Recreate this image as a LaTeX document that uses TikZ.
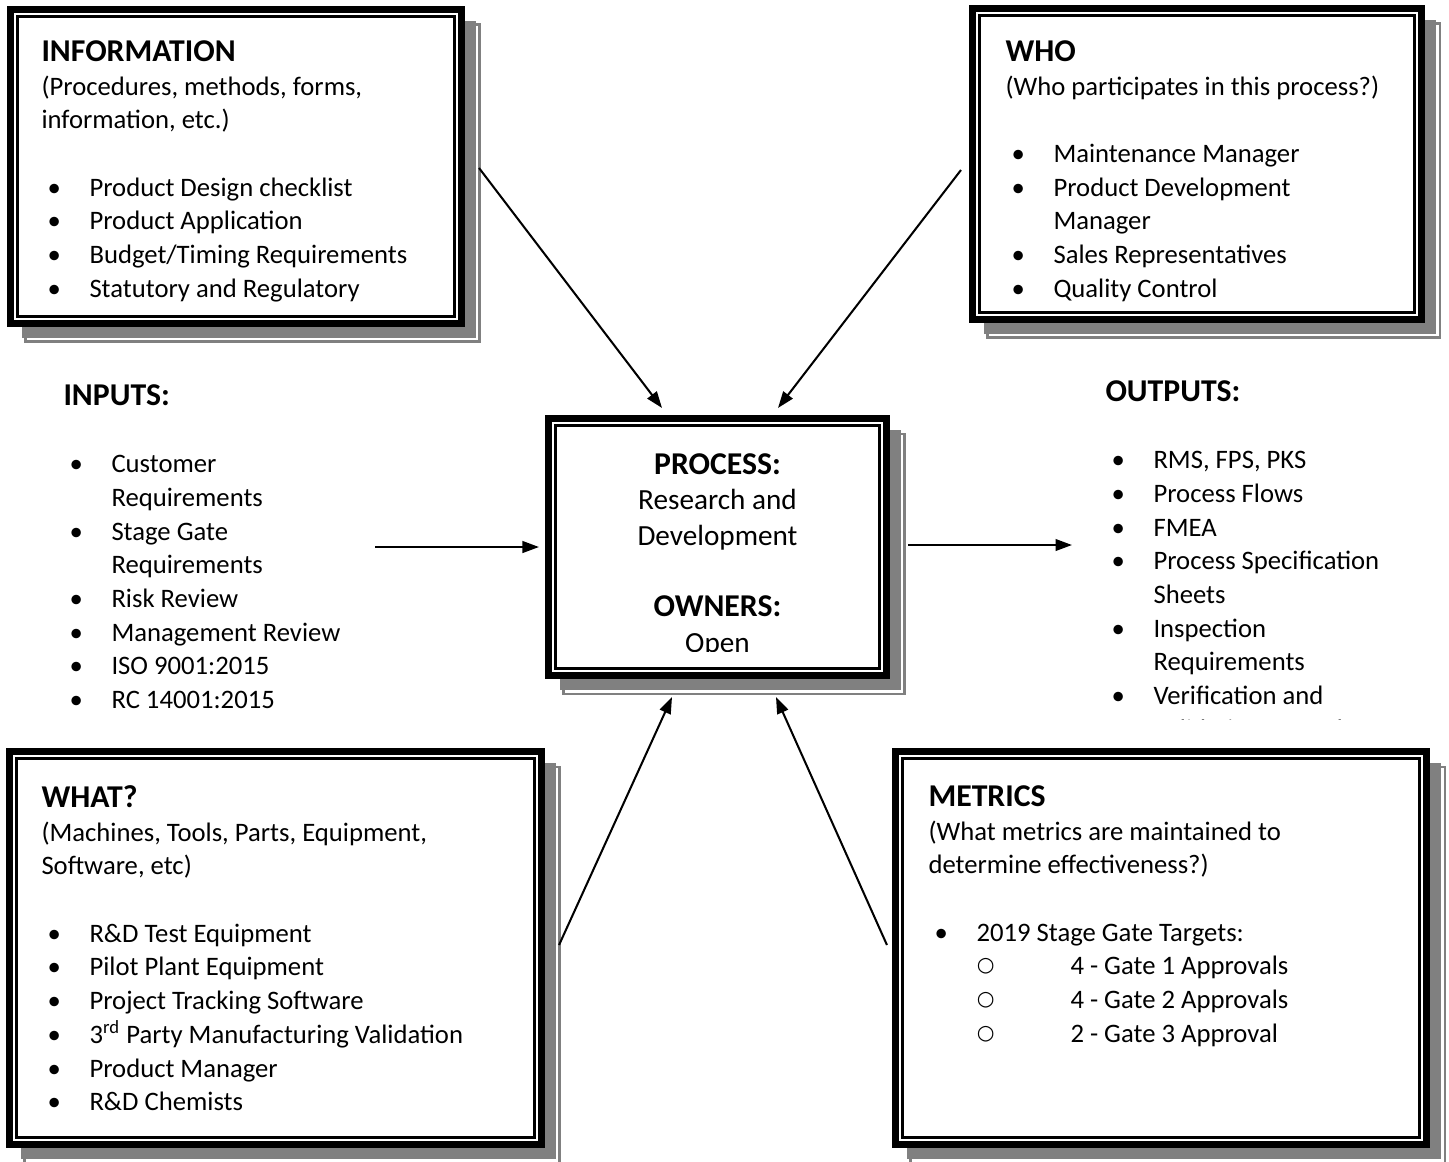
\documentclass[tikz,border=0pt]{standalone}
\usepackage{fontspec}
\setmainfont{Carlito}
\newfontfamily\symbfont{DejaVu Sans}
\usetikzlibrary{calc, positioning, arrows.meta, fit}
\definecolor{colShadow}{RGB}{128,128,128}

% list helpers
\newcommand{\bul}{\makebox[18.9pt][l]{\hspace{2.4pt}\textbullet}}
\newcommand{\subbul}{\makebox[55.9pt][l]{\hspace{19pt}\raisebox{1.2pt}{\symbfont\fontsize{8}{8}\selectfont ○}}}
\newcommand{\cont}{\hspace*{18.9pt}}
\newcommand{\ttl}[1]{{\fontsize{12.5}{13.3}\selectfont\bfseries #1}}

% the two inner lines of a framed box
\newcommand{\innerframes}[1]{%
  \draw[line width=1.2pt] ($(#1.north west)+(5.5,5.5)$) rectangle ($(#1.south east)+(-5.5,-5.5)$);
  \draw[line width=0.9pt] ($(#1.north west)+(10.5,10.5)$) rectangle ($(#1.south east)+(-10.5,-10.5)$);
}

\begin{document}
\begin{tikzpicture}[
  x=0.3937pt, y=-0.3937pt,
  tribox/.style={draw, line width=1.6pt, fill=white, inner sep=0pt,
                 preaction={draw=colShadow, line width=0.8pt,
                            transform canvas={shift={(16.5,16.5)}}},
                 preaction={fill=colShadow,
                            transform canvas={shift={(13,13)}}}},
  txt/.style={anchor=north west, inner sep=0pt, align=left,
              font=\fontsize{10.5}{13.27}\selectfont},
  proctxt/.style={anchor=north, inner sep=0pt, align=center,
                  font=\fontsize{11.5}{14}\selectfont},
  conn/.style={-{Triangle[length=6.5pt,width=4.6pt]}, line width=0.8pt}
]
\useasboundingbox (0,0) rectangle (1449,1161);

% ---------- Boxes ----------
\node[tribox, fit={(9,8) (463,325)}] (info) {};
\node[tribox, fit={(971,7) (1423,321)}] (who) {};
\node[tribox, fit={(547,417) (888,677)}] (proc) {};
\node[tribox, fit={(8,750) (543,1146)}] (what) {};
\node[tribox, fit={(894,750) (1428,1146)}] (metrics) {};
\innerframes{info}
\innerframes{who}
\innerframes{proc}
\innerframes{what}
\innerframes{metrics}

% ---------- Box texts ----------
\node[txt] (infotxt) at (41,40) {
  \ttl{INFORMATION}\\
  (Procedures, methods, forms,\\
  information, etc.)\\[13.27pt]
  \bul Product Design checklist\\
  \bul Product Application\\
  \bul Budget/Timing Requirements\\
  \bul Statutory and Regulatory
};
\node[txt] (whotxt) at (1005,40) {
  \ttl{WHO}\\
  (Who participates in this process?)\\[13.27pt]
  \bul Maintenance Manager\\
  \bul Product Development\\
  \cont Manager\\
  \bul Sales Representatives\\
  \bul Quality Control
};
\node[txt] (whattxt) at (41,785) {
  \ttl{WHAT?}\\
  (Machines, Tools, Parts, Equipment,\\
  Software, etc)\\[13.27pt]
  \bul R\&D Test Equipment\\
  \bul Pilot Plant Equipment\\
  \bul Project Tracking Software\\
  \bul 3\textsuperscript{rd} Party Manufacturing Validation\\
  \bul Product Manager\\
  \bul R\&D Chemists
};
\node[txt] (metricstxt) at (928,785) {
  \ttl{METRICS}\\
  (What metrics are maintained to\\
  determine effectiveness?)\\[13.27pt]
  \bul 2019 Stage Gate Targets:\\
  \subbul 4 - Gate 1 Approvals\\
  \subbul 4 - Gate 2 Approvals\\
  \subbul 2 - Gate 3 Approval
};

% process text, cut off by the inner frame
\begin{scope}
  \clip (560,430) rectangle (875,651);
  \node[proctxt] (proctext) at (717.5,453) {
    \ttl{PROCESS:}\\
    Research and\\
    Development\\[14pt]
    \ttl{OWNERS:}\\
    Open
  };
\end{scope}

% ---------- Inputs / outputs ----------
\node[txt] (inputs) at (63,384) {
  \ttl{INPUTS:}\\[13.27pt]
  \bul Customer\\
  \cont Requirements\\
  \bul Stage Gate\\
  \cont Requirements\\
  \bul Risk Review\\
  \bul Management Review\\
  \bul ISO 9001:2015\\
  \bul RC 14001:2015
};
\begin{scope}
  \clip (1080,360) rectangle (1449,719);
  \node[txt] (outputs) at (1105,380) {
    \ttl{OUTPUTS:}\\[13.27pt]
    \bul RMS, FPS, PKS\\
    \bul Process Flows\\
    \bul FMEA\\
    \bul Process Specification\\
    \cont Sheets\\
    \bul Inspection\\
    \cont Requirements\\
    \bul Verification and\\
    \cont Validation Records
  };
\end{scope}

% ---------- Arrows ----------
\coordinate (inStart) at (375,547);
\coordinate (outEnd) at (1072,545);
\draw[conn] ($(info.east)+(14,1.5)$) -- ($(proc.north)+(-55.5,-7)$);
\draw[conn] ($(who.west)+(-8,6)$) -- ($(proc.north)+(60.5,-7)$);
\draw[conn] (inStart) -- ($(proc.west)+(-6,0)$);
\draw[conn] ($(proc.east)+(18,-2)$) -- (outEnd);
\draw[conn] ($(what.east)+(14,-3)$) -- ($(proc.south)+(-45.5,18)$);
\draw[conn] ($(metrics.west)+(-5,-3)$) -- ($(proc.south)+(58.5,18)$);

\end{tikzpicture}
\end{document}
